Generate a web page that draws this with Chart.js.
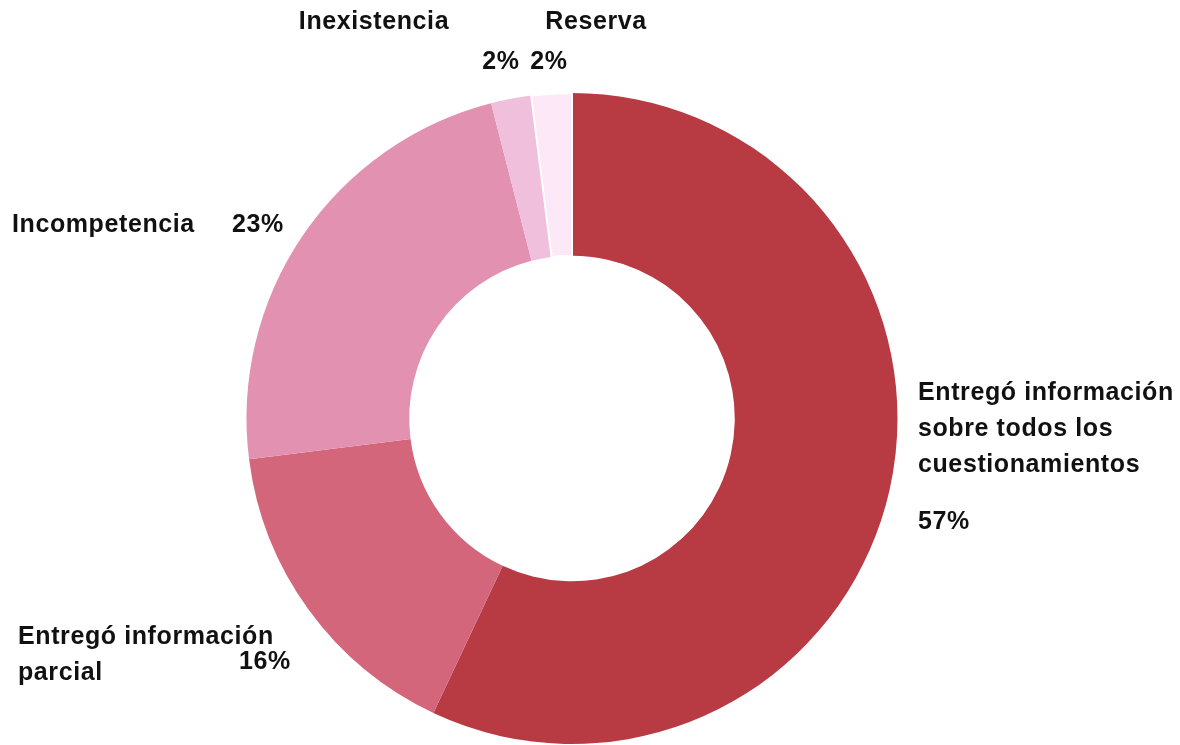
<!DOCTYPE html>
<html>
<head>
<meta charset="utf-8">
<script src="https://cdn.jsdelivr.net/npm/chart.js@4/dist/chart.umd.min.js"></script>
<style>
  html, body { margin: 0; padding: 0; background: #fff; }
  #wrap { width: 1180px; height: 745px; }
</style>
</head>
<body>
<div id="wrap"><canvas id="c" width="1180" height="745"></canvas></div>
<script>
// datos
const categories = [
  'Entregó información sobre todos los cuestionamientos',
  'Entregó información parcial',
  'Incompetencia',
  'Inexistencia',
  'Reserva'
];
const values = [57, 16, 23, 2, 2];
const colors = ['#b83a43', '#d4667c', '#e291b1', '#efbfdc', '#fde8f8'];

// posicion de las etiquetas (nombre y porcentaje)
const labelLayout = [
  { name: ['Entregó información', 'sobre todos los', 'cuestionamientos'], nx: 918, ny: 393, align: 'left', px: 918, py: 522, palign: 'left' },
  { name: ['Entregó información', 'parcial'], nx: 18, ny: 637, align: 'left', px: 265, py: 662, palign: 'center' },
  { name: ['Incompetencia'], nx: 12, ny: 225, align: 'left', px: 258, py: 225, palign: 'center' },
  { name: ['Inexistencia'], nx: 374, ny: 22, align: 'center', px: 501, py: 62, palign: 'center' },
  { name: ['Reserva'], nx: 596, ny: 22, align: 'center', px: 549, py: 62, palign: 'center' }
];

const labelsPlugin = {
  id: 'outerLabels',
  afterDraw(chart) {
    const ctx = chart.ctx;
    const total = values.reduce((a, b) => a + b, 0);
    ctx.save();
    ctx.fillStyle = '#111';
    ctx.font = 'bold 25px "Liberation Sans", Arial, sans-serif';
    ctx.letterSpacing = '0.6px';
    ctx.textBaseline = 'middle';
    labelLayout.forEach((l, i) => {
      ctx.textAlign = l.align;
      l.name.forEach((line, j) => ctx.fillText(line, l.nx, l.ny + j * 36));
      ctx.textAlign = l.palign;
      ctx.fillText(Math.round(values[i] / total * 100) + '%', l.px, l.py);
    });
    ctx.restore();
  }
};

new Chart(document.getElementById('c'), {
  type: 'doughnut',
  data: {
    labels: categories,
    datasets: [{
      data: values,
      backgroundColor: colors,
      borderColor: '#ffffff',
      borderWidth: [0, 0, 0, 0, 2]
    }]
  },
  options: {
    responsive: false,
    animation: false,
    cutout: '50%',
    layout: { padding: { top: 92, bottom: 0, left: 0, right: 36 } },
    plugins: {
      legend: { display: false },
      tooltip: { enabled: false }
    }
  },
  plugins: [labelsPlugin]
});
</script>
</body>
</html>
